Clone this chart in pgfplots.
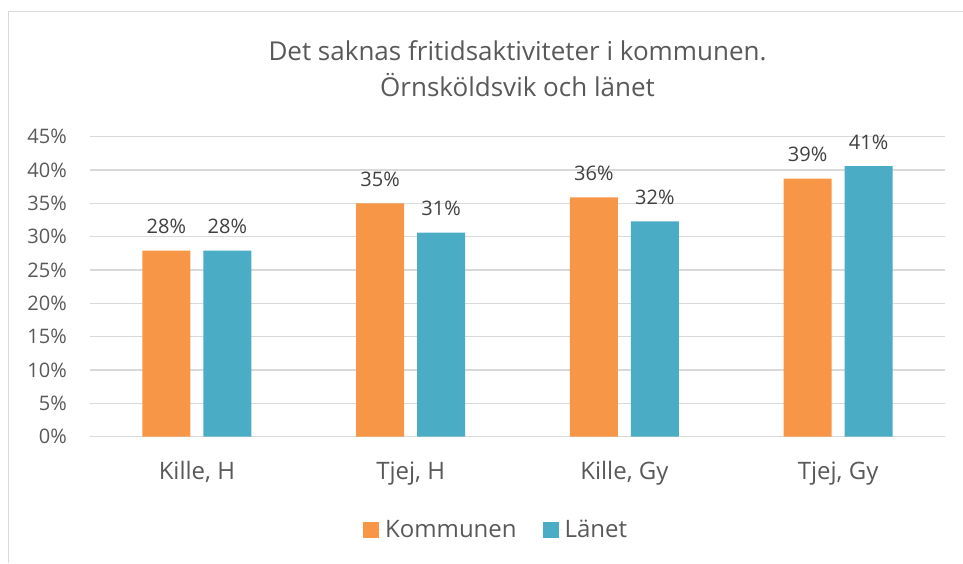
\documentclass[border=0pt]{standalone}
\usepackage{pgfplots}
\pgfplotsset{compat=1.18}
\usepackage{fontspec}
\setmainfont{Open Sans}

\definecolor{kommun}{HTML}{F79646}
\definecolor{lan}{HTML}{4BACC6}
\definecolor{gridgray}{HTML}{D9D9D9}
\definecolor{txtgray}{HTML}{595959}
\definecolor{lblgray}{HTML}{404040}

\begin{document}
\begin{tikzpicture}
  % canvas and chart frame
  \useasboundingbox (0pt,0pt) rectangle (963pt,563pt);
  \draw[gridgray, line width=1.2pt] (8.5pt,0pt) -- (8.5pt,551.5pt) -- (963pt,551.5pt);

  % title
  \node[anchor=base, text=txtgray, font=\fontsize{26}{32}\selectfont] at (517.5pt,502pt) {Det saknas fritidsaktiviteter i kommunen.};
  \node[anchor=base, text=txtgray, font=\fontsize{26}{32}\selectfont] at (517.5pt,466pt) {Örnsköldsvik och länet};

  \begin{axis}[
    at={(90pt,126.3pt)}, anchor=origin,
    scale only axis, width=855pt, height=300pt,
    ybar=13pt, bar width=48pt,
    xmin=0, xmax=4, ymin=0, ymax=45,
    xtick={0.5,1.5,2.5,3.5},
    xticklabels={{Kille, H},{Tjej, H},{Kille, Gy},{Tjej, Gy}},
    ytick={0,5,...,45},
    yticklabels={0\%,5\%,10\%,15\%,20\%,25\%,30\%,35\%,40\%,45\%},
    major tick length=0pt,
    axis line style={draw=none},
    ymajorgrids,
    grid style={gridgray, line width=1.3pt},
    xticklabel style={font=\fontsize{24}{28}\selectfont, text=txtgray, anchor=base, yshift=-42.5pt},
    yticklabel style={font=\fontsize{20}{24}\selectfont, text=txtgray, anchor=east, inner sep=0pt, xshift=-23pt},
    /pgf/number format/assume math mode=true,
    nodes near coords={\pgfmathprintnumber[fixed,precision=0]{\pgfplotspointmeta}\%},
    every node near coord/.append style={font=\fontsize{20}{24}\selectfont, text=lblgray, anchor=south, yshift=13pt},
    legend style={draw=none, fill=none, at={(0.475,-0.31)}, anchor=center,
      font=\fontsize{24}{28}\selectfont, text=txtgray,
      /tikz/every even column/.append style={column sep=24pt}},
    legend columns=2,
    legend image code/.code={\fill[#1] (0pt,-8pt) rectangle (16pt,8pt);
      \path (0pt,0pt) -- (20pt,0pt);},
  ]
    \addplot[draw=none, fill=kommun] coordinates {(0.5,27.9) (1.5,35.0) (2.5,35.9) (3.5,38.7)};
    \addplot[draw=none, fill=lan] coordinates {(0.5,27.9) (1.5,30.6) (2.5,32.3) (3.5,40.6)};
    \legend{Kommunen,Länet}
  \end{axis}
\end{tikzpicture}
\end{document}
